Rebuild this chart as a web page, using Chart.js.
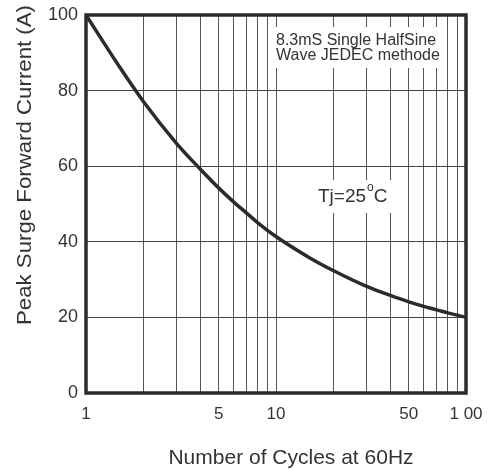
<!DOCTYPE html>
<html>
<head>
<meta charset="utf-8">
<script src="https://cdn.jsdelivr.net/npm/chart.js@4.4.0/dist/chart.umd.min.js"></script>
<style>
  body { margin: 0; background: #fff; }
  #wrap { width: 488px; height: 470px; }
</style>
</head>
<body>
<div id="wrap"><canvas id="surge" width="488" height="470"></canvas></div>
<script>
// curve
const cycles  = [1, 1.5, 2, 3, 4, 5, 6, 7, 8, 10, 15, 20, 30, 40, 50, 60, 70, 80, 100];
const current = [100, 86.3, 77.2, 66, 59.2, 54.2, 50.5, 47.6, 45.1, 41.4, 35.8, 32.4, 28.2, 25.8, 24.1, 22.9, 22, 21.2, 20];

// log grid lines and which of them carry a label
const gridCycles = [1, 2, 3, 4, 5, 6, 7, 8, 9, 10, 20, 30, 40, 50, 60, 70, 80, 90, 100];
const xLabelled  = [1, 5, 10, 50, 100];
const xLabelText = ["1", "5", "10", "50", "1 00"];
const yTicks     = [0, 20, 40, 60, 80, 100];

const xTitle = "Number of Cycles at 60Hz";
const yTitle = "Peak Surge Forward Current (A)";
const noteLines = ["8.3mS Single HalfSine", "Wave JEDEC methode"];

const ink = '#2b2b28';
const fontFam = '"Liberation Sans", Arial, sans-serif';

/**
 * frame, titles and the two notes
 */
const extras = {
  id: 'extras',
  afterDraw(chart) {
    const { ctx, chartArea: a } = chart;
    ctx.save();

    // note boxes knock out the grid behind them
    ctx.fillStyle = '#fff';
    ctx.fillRect(272, 27, 174, 41);
    ctx.fillRect(300, 180, 100, 33);

    ctx.fillStyle = '#333';
    ctx.textBaseline = 'middle';
    ctx.textAlign = 'left';
    ctx.font = '16px ' + fontFam;
    ctx.fillText(noteLines[0], 276, 41);
    ctx.fillText(noteLines[1], 276, 56);

    // Tj=25°C with raised o
    ctx.font = '19px ' + fontFam;
    let x = 318;
    ctx.fillText('Tj=25', x, 197);
    x += ctx.measureText('Tj=25').width + 1;
    ctx.font = '12px ' + fontFam;
    ctx.fillText('o', x, 188);
    x += ctx.measureText('o').width;
    ctx.font = '19px ' + fontFam;
    ctx.fillText('C', x, 197);

    // axis titles
    ctx.textAlign = 'center';
    ctx.font = '21px ' + fontFam;
    ctx.fillText(xTitle, 291, 458);

    const w = ctx.measureText(yTitle).width;
    ctx.translate(25, 165);
    ctx.rotate(-Math.PI / 2);
    ctx.scale(320 / w, 1);
    ctx.fillText(yTitle, 0, 0);
    ctx.restore();

    // heavy frame
    ctx.save();
    ctx.strokeStyle = ink;
    ctx.lineWidth = 3.5;
    ctx.strokeRect(a.left, a.top, a.right - a.left, a.bottom - a.top);
    ctx.restore();
  }
};

const config = {
  type: 'line',
  data: {
    datasets: [{
      data: cycles.map((c, i) => ({ x: c, y: current[i] })),
      borderColor: ink,
      borderWidth: 3.5,
      pointRadius: 0,
      fill: false,
      cubicInterpolationMode: 'monotone'
    }]
  },
  options: {
    responsive: false,
    animation: false,
    layout: { padding: { left: 0, top: 15, right: 22, bottom: 0 } },
    plugins: { legend: { display: false }, tooltip: { enabled: false } },
    scales: {
      x: {
        type: 'logarithmic',
        min: 1,
        max: 100,
        afterBuildTicks: s => { s.ticks = gridCycles.map(v => ({ value: v })); },
        afterFit: s => { s.height = 77; s.paddingLeft = 0; s.paddingRight = 0; },
        border: { display: false },
        grid: { color: '#555', lineWidth: 1, drawTicks: false },
        ticks: {
          autoSkip: false,
          maxRotation: 0,
          padding: 11,
          color: '#333',
          font: { family: fontFam, size: 17 },
          callback: v => {
            const k = xLabelled.indexOf(v);
            return k < 0 ? '' : xLabelText[k];
          }
        }
      },
      y: {
        min: 0,
        max: 100,
        afterBuildTicks: s => { s.ticks = yTicks.map(v => ({ value: v })); },
        afterFit: s => { s.width = 86; s.paddingTop = 0; s.paddingBottom = 0; },
        border: { display: false },
        grid: { color: '#444', lineWidth: 1, drawTicks: false },
        ticks: {
          padding: 8,
          color: '#333',
          font: { family: fontFam, size: 18 }
        }
      }
    }
  },
  plugins: [extras]
};

new Chart(document.getElementById('surge'), config);
</script>
</body>
</html>
